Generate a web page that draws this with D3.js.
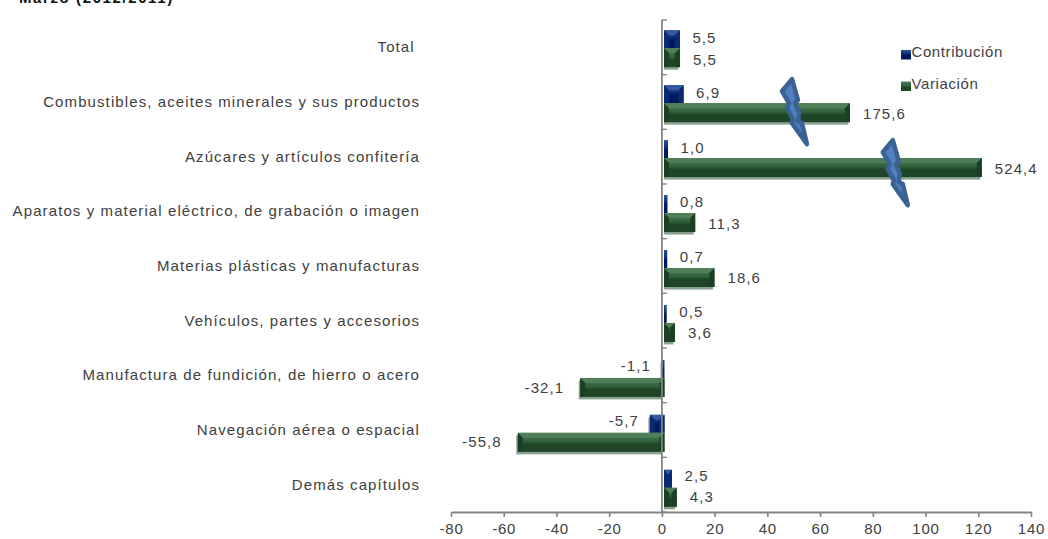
<!DOCTYPE html>
<html><head><meta charset="utf-8">
<script src="https://cdn.jsdelivr.net/npm/d3@7/dist/d3.min.js"></script>
<style>html,body{margin:0;padding:0;background:#fff}svg{display:block}text{font-family:"Liberation Sans",Arial,sans-serif}</style>
</head><body><svg id="c" width="1048" height="539"></svg>
<script>
const categories=["Total ","Combustibles, aceites minerales y sus productos","Azúcares y artículos confitería","Aparatos y material eléctrico, de grabación o imagen","Materias plásticas y manufacturas","Vehículos, partes y accesorios","Manufactura de fundición, de hierro o acero","Navegación aérea o espacial","Demás capítulos"];
const contribucion=[5.5,6.9,1.0,0.8,0.7,0.5,-1.1,-5.7,2.5];
const variacion=[5.5,175.6,524.4,11.3,18.6,3.6,-32.1,-55.8,4.3];
// the axis is broken on these bars: value at which each is cut off
const variacionCortada=[5.5,70,120,11.3,18.6,3.6,-32.1,-55.8,4.3];
const xTicks=[-80,-60,-40,-20,0,20,40,60,80,100,120,140];
const seriesNames=["Contribución","Variación"];
const title="Marzo (2012/2011)";

const svg=d3.select("#c");
const defs=svg.append("defs");
const x=d3.scaleLinear().domain([-80,140]).range([451,1031]);
const y=d3.scaleBand().domain(categories).range([20,512]);
const yBar=d3.scaleBand().domain(categories).range([20.7,515.3]);
const fmt=v=>String(v.toFixed(1)).replace(".",",");
const AX="#848484",TXT="#404040";

svg.append("text").attr("x",19).attr("y",3).attr("font-size",15).attr("font-weight","bold").attr("letter-spacing",1.6).attr("fill","#111").text(title);

const pal={blue:{id:"gb",stops:[["0","#2a4f96"],[".3","#123a86"],[".55","#02185c"],["1","#02185c"]],bevel:"#34599e",side:"#0a2b74",shadow:"#8d9db5"},
           green:{id:"gg",stops:[["0","#4f7f58"],[".3","#3a6b44"],[".52","#2a5a34"],[".58","#1e4526"],["1","#1e4526"]],bevel:"#4f7f58",side:"#1a3f22",shadow:"#8aa08f"}};
Object.values(pal).forEach(p=>{
  const g=defs.append("linearGradient").attr("id",p.id).attr("x1",0).attr("x2",0).attr("y1",0).attr("y2",1);
  p.stops.forEach(s=>g.append("stop").attr("offset",s[0]).attr("stop-color",s[1]));
});
function bar(g,v,y0,h,p){
  const a=v<0?x(v)+3:664,b=v<0?664.5:x(v)+3.5,w=b-a;
  g.append("rect").attr("x",a+(v<0?-1.5:0)).attr("y",y0+2.5).attr("width",Math.max(w-1.5,0)).attr("height",h).attr("fill",p.shadow);
  g.append("rect").attr("x",a).attr("y",y0).attr("width",w).attr("height",h).attr("fill",`url(#${p.id})`);
  if(w<6) return;
  const bev=Math.min(5,w/2),t=5;
  g.append("path").attr("fill",p.bevel).attr("d",`M${a},${y0}L${b},${y0}L${b-bev},${y0+t}L${a+bev},${y0+t}Z`);
  g.append("path").attr("fill",p.side).attr("d",`M${a},${y0}L${a+bev},${y0+t}L${a+bev},${y0+h-1}L${a},${y0+h}Z`);
  g.append("path").attr("fill",p.side).attr("d",`M${b},${y0}L${b-bev},${y0+t}L${b-bev},${y0+h-1}L${b},${y0+h}Z`);
}
const plot=svg.append("g");
categories.forEach((c,i)=>{
  const cy=yBar(c)+yBar.bandwidth()/2;
  bar(plot,contribucion[i],cy-18,18,pal.blue);
  bar(plot,variacionCortada[i],cy,19,pal.green);
});

// axes
const gx=svg.append("g").attr("transform","translate(0,512)").call(d3.axisBottom(x).tickValues(xTicks).tickSize(5).tickSizeOuter(0).tickFormat(d=>d));
gx.selectAll("line").attr("stroke",AX).attr("stroke-width",1.6);
gx.select(".domain").attr("stroke",AX).attr("stroke-width",1.8);
gx.selectAll("text").attr("fill",TXT).attr("font-size",15).attr("letter-spacing",.8).attr("y",11.5).attr("dy",".71em").style("font-family",'"Liberation Sans"');
const bounds=categories.map(c=>y(c)).concat([y.range()[1]]);
const gy=svg.append("g");
gy.append("line").attr("x1",x(0)).attr("x2",x(0)).attr("y1",20).attr("y2",512).attr("stroke",AX).attr("stroke-width",1.8);
gy.selectAll("line.t").data(bounds).join("line").attr("class","t").attr("x1",x(0)).attr("x2",x(0)+5).attr("y1",d=>d).attr("y2",d=>d).attr("stroke",AX).attr("stroke-width",1.4);

// category labels
svg.append("g").selectAll("text").data(categories).join("text")
  .attr("x",420).attr("y",d=>y(d)+y.bandwidth()/2+1).attr("text-anchor","end").attr("dominant-baseline","middle")
  .attr("font-size",15).attr("fill",TXT).attr("letter-spacing",1.1).style("white-space","pre").text(d=>d);

// value labels
const lab=svg.append("g").attr("font-size",15).attr("fill",TXT).attr("letter-spacing",1.1);
categories.forEach((c,i)=>{
  const cy=y(c)+y.bandwidth()/2;
  const a=contribucion[i],b=variacionCortada[i];
  lab.append("text").attr("x",a<0?x(a)+3-11:x(a)+3.5+12.5).attr("y",cy-8).attr("dominant-baseline","middle").attr("text-anchor",a<0?"end":"start").text(fmt(a));
  lab.append("text").attr("x",b<0?x(b)+3-16:x(b)+3.5+13).attr("y",cy+13.5).attr("dominant-baseline","middle").attr("text-anchor",b<0?"end":"start").text(fmt(variacion[i]));
});

// axis-break bolts, anchored on the cut bars
const bolt="M0,0 L-10,12 L-3,24 L-5,29 L1,40 L0,44 L15,65 L10,44 L6,42 L7,33 L3,24 L6,21 Z";
[[1,-58,-24],[2,-89,-18]].forEach(([i,dx,dy])=>{
  const cy=yBar(categories[i])+yBar.bandwidth()/2;
  svg.append("path").attr("d",bolt).attr("transform",`translate(${x(variacionCortada[i])+3.5+dx},${cy+dy})`)
    .attr("fill","#4f81bd").attr("stroke","#3a6294").attr("stroke-width",4.5).attr("stroke-linejoin","round");
});

// legend
const lg=svg.append("g");
seriesNames.forEach((n,i)=>{
  const ly=i==0?54.5:86;
  const p=i==0?pal.blue:pal.green;
  lg.append("rect").attr("x",901).attr("y",ly-4.5).attr("width",10).attr("height",9.5).attr("fill",`url(#${p.id})`);
  lg.append("text").attr("x",911.5).attr("y",ly-1).attr("dominant-baseline","middle").attr("font-size",15).attr("fill",TXT).attr("letter-spacing",.6).text(n);
});
</script></body></html>
